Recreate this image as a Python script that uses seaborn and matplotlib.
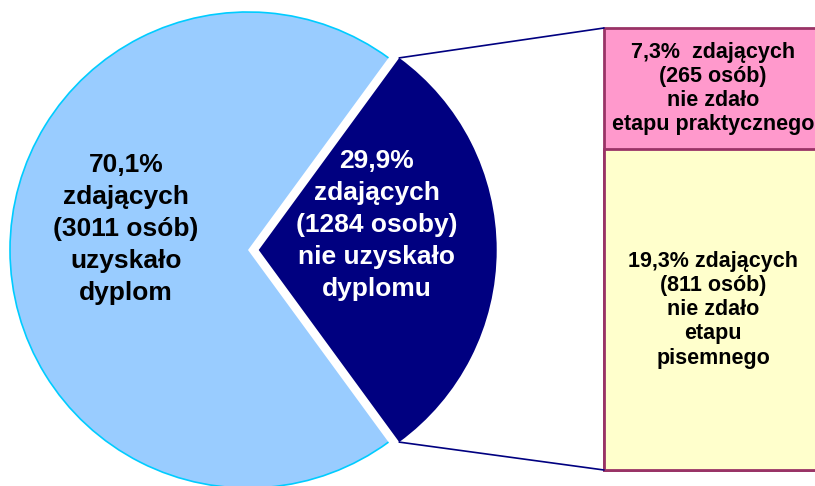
import matplotlib
matplotlib.use("Agg")
import matplotlib.pyplot as plt
from matplotlib.patches import Arc, ConnectionPatch
import numpy as np
import seaborn as sns

# dane
wyniki_pie = [70.1, 29.9]          # uzyskalo / nie uzyskalo dyplomu (%)
opisy_pie = ["70,1%\nzdających\n(3011 osób)\nuzyskało\ndyplom",
             "29,9%\nzdających\n(1284 osoby)\nnie uzyskało\ndyplomu"]
kolory_pie = ["#99CCFF", "#000080"]

etapy = ["pisemny", "praktyczny"]   # od dolu do gory
wyniki_slupka = [19.3, 7.3]         # % zdajacych
opisy_slupka = ["19,3% zdających\n(811 osób)\nnie zdało\netapu\npisemnego",
                "7,3%  zdających\n(265 osób)\nnie zdało\netapu praktycznego"]
kolory_slupka = ["#FFFFCC", "#FF99CC"]

sns.set_theme(style="white")
plt.rcParams["font.family"] = ["Liberation Sans", "DejaVu Sans"]

W, H = 815, 486
fig = plt.figure(figsize=(W / 100, H / 100), dpi=100)

# --- kolo ---
R_PX = 238
cx, cy = 248, 236   # srodek kola w px (od dolu)
ax = fig.add_axes([0, 0, 1, 1])
start = 180 * wyniki_pie[1] / sum(wyniki_pie)
wedges, _ = ax.pie(wyniki_pie, colors=kolory_pie, startangle=start,
                   explode=[0, 0.045], counterclock=True,
                   wedgeprops=dict(linewidth=0))
ax.set_xlim(-cx / R_PX, (W - cx) / R_PX)
ax.set_ylim(-cy / R_PX, (H - cy) / R_PX)
ax.set_aspect("equal")
ax.axis("off")

jasny = wedges[0]
ax.add_patch(Arc(jasny.center, 2 * jasny.r, 2 * jasny.r,
                 theta1=jasny.theta1, theta2=jasny.theta2,
                 color="#00CCFF", lw=1.2))

ax.text(-0.513, 0.088, opisy_pie[0], ha="center", va="center",
        fontsize=19, fontweight="bold", color="black", linespacing=1.42)
ax.text(0.542, 0.105, opisy_pie[1], ha="center", va="center",
        fontsize=19, fontweight="bold", color="white", linespacing=1.42)

# --- slupek ---
bx = fig.add_axes([604 / W, 16 / H, 218 / W, 442 / H])
suma = sum(wyniki_slupka)
narast = []
s = 0
for v in wyniki_slupka:
    s += v
    narast.append(s)
for i in reversed(range(len(etapy))):
    sns.barplot(x=[0], y=[narast[i]], color=kolory_slupka[i], saturation=1,
                width=1, edgecolor="#993366", linewidth=2, ax=bx)
for p in bx.patches:
    p.set_clip_on(False)
bx.set_xlim(-0.5, 0.5)
bx.set_ylim(0, suma)
bx.axis("off")

dol = 0
for v, txt in zip(wyniki_slupka, opisy_slupka):
    bx.text(0, dol + v / 2, txt, ha="center", va="center", fontsize=15.5,
            fontweight="bold", color="black", linespacing=1.2)
    dol += v

# --- linie laczace ---
ciemny = wedges[1]
for kat, yb in [(ciemny.theta2, suma), (ciemny.theta1, 0)]:
    px = ciemny.center[0] + ciemny.r * np.cos(np.radians(kat))
    py = ciemny.center[1] + ciemny.r * np.sin(np.radians(kat))
    con = ConnectionPatch(xyA=(px, py), coordsA=ax.transData,
                          xyB=(-0.5, yb), coordsB=bx.transData,
                          color="#000080", lw=1.2)
    fig.add_artist(con)

fig.savefig("out.png", dpi=100)
